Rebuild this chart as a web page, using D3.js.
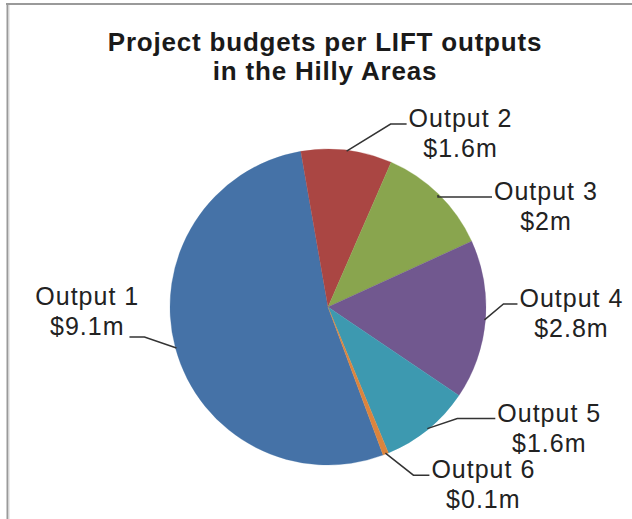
<!DOCTYPE html>
<html>
<head>
<meta charset="utf-8">
<script src="https://cdn.jsdelivr.net/npm/d3@7"></script>
<style>
  html, body { margin: 0; padding: 0; background: #fff; }
  svg { display: block; }
</style>
</head>
<body>
<svg id="chart" width="632" height="519"></svg>
<script>
// chart data
const outputs = ['Output 1', 'Output 2', 'Output 3', 'Output 4', 'Output 5', 'Output 6'];
const budgets = [9.1, 1.6, 2, 2.8, 1.6, 0.1];
const budgetLabels = ['$9.1m', '$1.6m', '$2m', '$2.8m', '$1.6m', '$0.1m'];
const colors = ['#4572A7', '#AA4643', '#89A54E', '#71588F', '#3D99B0', '#DB843D'];
const titleLines = ['Project budgets per LIFT outputs', 'in the Hilly Areas'];

// layout tweaks for the leader lines (end point relative to slice edge, length of flat part)
const leaderEnd = [[-47, -11], [60, -27], [54, 2], [33, -16], [68, -10], [44, 22]];
const leaderFlat = [15, 16, 54, 14, 38, 16];

const cx = 328, cy = 307, r = 158;
const startDeg = 159.6;

const svg = d3.select('#chart');

// frame bits from the page the chart was cut from
svg.append('line')
  .attr('x1', 6).attr('y1', 4).attr('x2', 632).attr('y2', 4)
  .attr('stroke', '#9a9a9a').attr('stroke-width', 2);
svg.append('line')
  .attr('x1', 7.5).attr('y1', 4).attr('x2', 7.5).attr('y2', 519)
  .attr('stroke', '#9a9a9a').attr('stroke-width', 2);
svg.append('line')
  .attr('x1', 9).attr('y1', 5).attr('x2', 9).attr('y2', 519)
  .attr('stroke', '#d8d8d8').attr('stroke-width', 1);

// title
svg.append('text')
  .attr('x', 325).attr('text-anchor', 'middle')
  .style('font-family', '"Liberation Sans", Arial, sans-serif')
  .style('font-weight', 'bold').style('font-size', '26px')
  .style('letter-spacing', '0.8px')
  .attr('fill', '#1a1a1a')
  .selectAll('tspan').data(titleLines).join('tspan')
  .attr('x', 325)
  .attr('y', (d, i) => 51 + i * 29)
  .text(d => d);

const data = outputs.map((o, i) => ({ name: o, value: budgets[i], label: budgetLabels[i], i: i }));

const pie = d3.pie()
  .sort(null)
  .value(d => d.value)
  .startAngle(startDeg * Math.PI / 180)
  .endAngle(startDeg * Math.PI / 180 + 2 * Math.PI);

const arcs = pie(data);
const arc = d3.arc().innerRadius(0).outerRadius(r);

const g = svg.append('g').attr('transform', 'translate(' + cx + ',' + cy + ')');

g.selectAll('path.slice')
  .data(arcs)
  .join('path')
  .attr('class', 'slice')
  .attr('d', arc)
  .attr('fill', d => colors[d.data.i])
  .attr('stroke', d => colors[d.data.i])
  .attr('stroke-width', 0.3);

// leader lines and labels
arcs.forEach(function(d) {
  let i = d.data.i;
  let mid = (d.startAngle + d.endAngle) / 2;
  let ex = Math.sin(mid) * (r - 1);
  let ey = -Math.cos(mid) * (r - 1);
  let endX = ex + leaderEnd[i][0];
  let endY = ey + leaderEnd[i][1];
  let left = leaderEnd[i][0] < 0;
  let elbowX = left ? endX + leaderFlat[i] : endX - leaderFlat[i];

  g.append('polyline')
    .attr('points', [[ex, ey], [elbowX, endY], [endX, endY]].map(p => p.join(',')).join(' '))
    .attr('fill', 'none')
    .attr('stroke', '#333')
    .attr('stroke-width', 1.5);

  let t = g.append('text')
    .attr('text-anchor', 'middle')
    .style('font-family', '"Liberation Sans", Arial, sans-serif')
    .style('font-size', '25px')
    .style('letter-spacing', '1px')
    .attr('fill', '#222');
  let l1 = t.append('tspan').text(d.data.name);
  let l2 = t.append('tspan').text(d.data.label);
  let w1 = l1.node().getComputedTextLength();
  let w2 = l2.node().getComputedTextLength();
  let bx, b1;
  if (left) {
    bx = endX - 5 - w2 / 2;
    b1 = endY - 2 - 30;
  } else {
    bx = endX + 2 + w1 / 2;
    b1 = endY + 3;
  }
  l1.attr('x', bx).attr('y', b1);
  l2.attr('x', bx).attr('y', b1 + 30);
});
</script>
</body>
</html>
